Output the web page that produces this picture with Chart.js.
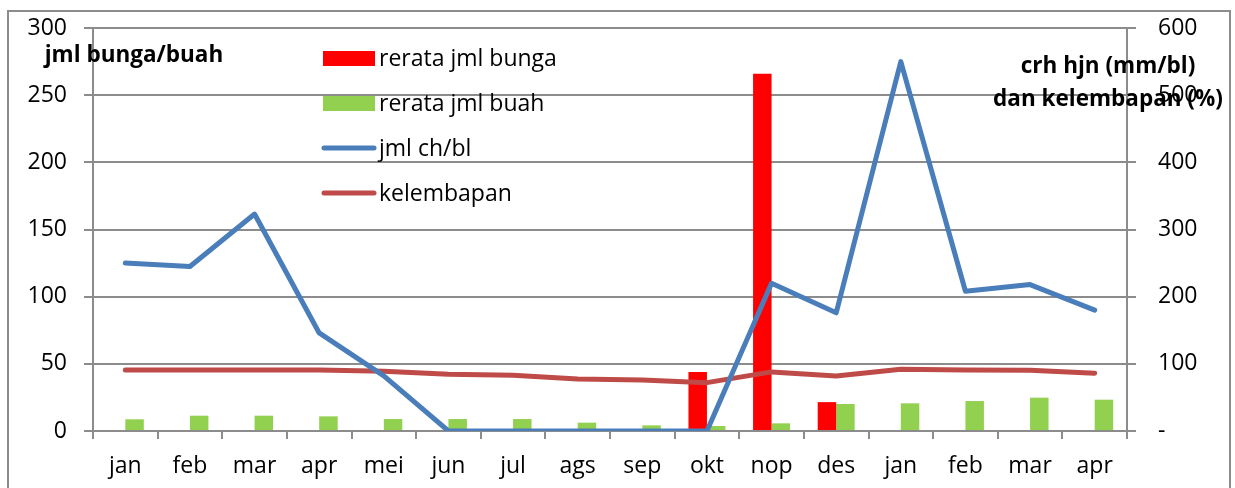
<!DOCTYPE html>
<html>
<head>
<meta charset="utf-8">
<script src="https://cdn.jsdelivr.net/npm/chart.js@4"></script>
<style>
    body { margin: 0; background: #fff; }
    #wrap { position: relative; width: 1235px; height: 488px; overflow: hidden; }
    #frame { position: absolute; left: 7px; top: 10px; width: 1220px; height: 520px; border: 2px solid #8c8c8c; }
    canvas { position: absolute; left: 0; top: 0; }
</style>
</head>
<body>
<div id="wrap">
    <div id="frame"></div>
    <canvas id="chart" width="1235" height="488"></canvas>
</div>
<script>
/* =========================
   Data
========================= */
const months = ["jan", "feb", "mar", "apr", "mei", "jun", "jul", "ags", "sep", "okt", "nop", "des", "jan", "feb", "mar", "apr"];
const bunga = [null, null, null, null, null, null, null, null, null, 44, 266, 21.5, null, null, null, null];
const buah = [8.7, 11.4, 11.4, 10.9, 8.9, 8.9, 8.9, 6.2, 4.2, 3.7, 5.7, 20.1, 20.6, 22.3, 24.8, 23.3];
const curahHujan = [250, 245, 323, 146, 82, 0, 0, 0, 0, 0, 220, 176, 550, 208, 218, 180];
const kelembapan = [91, 91, 91, 91, 89, 84.5, 83, 77.5, 76, 72, 88, 82, 92, 91, 90.5, 86];
const leftTicks = [0, 50, 100, 150, 200, 250, 300];
const rightTicks = [0, 100, 200, 300, 400, 500, 600];

const FONT = "'Open Sans', sans-serif";
const GRID = "#8c8c8c";

Chart.defaults.font.family = FONT;
Chart.defaults.font.size = 23;
Chart.defaults.color = "#000";

/* =========================
   Legend + axis titles
========================= */
const overlay = {
    id: "overlay",
    afterDraw(chart) {
        const ctx = chart.ctx;
        ctx.save();

        // legend
        let y = 58;
        chart.data.datasets.forEach(ds => {
            if (ds.type === "bar") {
                ctx.fillStyle = ds.backgroundColor;
                ctx.fillRect(323, y - 7, 52, 15);
            } else {
                ctx.strokeStyle = ds.borderColor;
                ctx.lineWidth = 5;
                ctx.lineCap = "round";
                ctx.beginPath();
                ctx.moveTo(324, y);
                ctx.lineTo(374, y);
                ctx.stroke();
            }
            ctx.fillStyle = "#000";
            ctx.font = "23px " + FONT;
            ctx.textAlign = "left";
            ctx.textBaseline = "middle";
            ctx.fillText(ds.label, 379, y + 1);
            y += 45;
        });

        // axis titles
        ctx.font = "bold 22.5px " + FONT;
        ctx.textAlign = "center";
        ctx.textBaseline = "middle";
        ctx.fillText("jml bunga/buah", 134, 56);
        ctx.fillText("crh hjn (mm/bl)", 1108, 67);
        ctx.fillText("dan kelembapan (%)", 1108, 100);

        ctx.restore();
    }
};

new Chart(document.getElementById("chart"), {
    data: {
        labels: months,
        datasets: [
            {
                type: "bar",
                label: "rerata jml bunga",
                data: bunga,
                backgroundColor: "#ff0000",
                yAxisID: "y",
                order: 3
            },
            {
                type: "bar",
                label: "rerata jml buah",
                data: buah,
                backgroundColor: "#92d050",
                yAxisID: "y",
                order: 3
            },
            {
                type: "line",
                label: "jml ch/bl",
                data: curahHujan,
                borderColor: "#4a7ebb",
                borderWidth: 5,
                pointRadius: 0,
                tension: 0,
                borderJoinStyle: "round",
                borderCapStyle: "round",
                yAxisID: "y1",
                order: 1
            },
            {
                type: "line",
                label: "kelembapan",
                data: kelembapan,
                borderColor: "#be4b48",
                borderWidth: 5,
                pointRadius: 0,
                tension: 0,
                borderJoinStyle: "round",
                borderCapStyle: "round",
                yAxisID: "y1",
                order: 2
            }
        ]
    },
    options: {
        responsive: false,
        animation: false,
        layout: { padding: { top: 28, left: 0, right: 0, bottom: 0 } },
        datasets: {
            bar: { categoryPercentage: 0.572, barPercentage: 1.0 }
        },
        plugins: {
            legend: { display: false },
            tooltip: { enabled: false }
        },
        scales: {
            x: {
                offset: true,
                grid: {
                    offset: true,
                    drawOnChartArea: false,
                    tickLength: 8,
                    color: GRID,
                    lineWidth: 2
                },
                border: { color: GRID, width: 2 },
                ticks: { padding: 14, maxRotation: 0, autoSkip: false },
                afterFit(scale) { scale.height = 57; }
            },
            y: {
                position: "left",
                min: 0,
                max: 300,
                afterBuildTicks(scale) { scale.ticks = leftTicks.map(v => ({ value: v })); },
                grid: { color: GRID, lineWidth: 2, tickLength: 9 },
                border: { color: GRID, width: 2 },
                ticks: { padding: 17 },
                afterFit(scale) {
                    scale.width = 93;
                    scale.paddingTop = 0;
                    scale.paddingBottom = 0;
                }
            },
            y1: {
                position: "right",
                min: 0,
                max: 600,
                afterBuildTicks(scale) { scale.ticks = rightTicks.map(v => ({ value: v })); },
                grid: { drawOnChartArea: false, color: GRID, lineWidth: 2, tickLength: 9 },
                border: { color: GRID, width: 2 },
                ticks: {
                    padding: 22,
                    callback: v => v === 0 ? "-" : v
                },
                afterFit(scale) {
                    scale.width = 108;
                    scale.paddingTop = 0;
                    scale.paddingBottom = 0;
                }
            }
        }
    },
    plugins: [overlay]
});
</script>
</body>
</html>
